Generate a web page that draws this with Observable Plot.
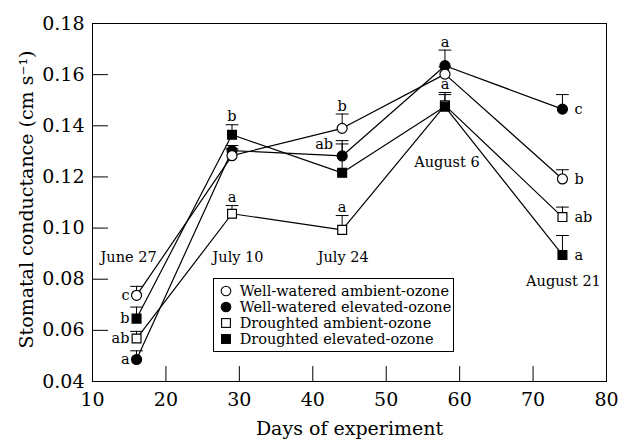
<!DOCTYPE html>
<html><head><meta charset="utf-8">
<script src="https://cdn.jsdelivr.net/npm/d3@7"></script>
<script src="https://cdn.jsdelivr.net/npm/@observablehq/plot@0.6"></script>
<style>
body{margin:0;background:#fff;}
#wrap{position:relative;width:618px;height:440px;font-family:"DejaVu Serif",serif;}
#legend{position:absolute;left:213px;top:278px;width:241px;height:74px;border:1px solid #000;background:#fff;font-size:14.5px;line-height:16px;padding:4px 0 0 5.7px;box-sizing:border-box;color:#000;}
.row{display:flex;align-items:center;height:16px;white-space:nowrap;}
.row svg{margin-right:8px;flex:none;}
</style></head>
<body><div id="wrap"></div>
<script>
// ---- data ----
const days = [16, 29, 44, 58, 74];
const dateLabels = ["June 27", "July 10", "July 24", "August 6", "August 21"];
const seriesNames = ["Well-watered ambient-ozone", "Well-watered elevated-ozone", "Droughted ambient-ozone", "Droughted elevated-ozone"];
const wwAmbient     = [0.0737, 0.1283, 0.1390, 0.1602, 0.1192];
const wwAmbientTop  = [0.0772, 0.1310, 0.1446, 0.1630, 0.1228];
const wwAmbientLet  = ["c", "", "b", "", "b"];
const wwElevated    = [0.0486, 0.1303, 0.1282, 0.1635, 0.1465];
const wwElevatedTop = [0.0520, 0.1323, 0.1342, 0.1696, 0.1522];
const wwElevatedLet = ["a", "", "ab", "a", "c"];
const drAmbient     = [0.0568, 0.1056, 0.0993, 0.1480, 0.1043];
const drAmbientTop  = [0.0596, 0.1088, 0.1049, 0.1522, 0.1082];
const drAmbientLet  = ["ab", "a", "a", "", "ab"];
const drElevated    = [0.0646, 0.1365, 0.1216, 0.1475, 0.0895];
const drElevatedTop = [0.0691, 0.1404, 0.1329, 0.1530, 0.0971];
const drElevatedLet = ["b", "b", "", "a", "a"];
const xTicks = [10, 20, 30, 40, 50, 60, 70, 80];
const yTicks = [0.04, 0.06, 0.08, 0.10, 0.12, 0.14, 0.16, 0.18];

// ---- build table ----
const series = [
  {name: seriesNames[0], values: wwAmbient, tops: wwAmbientTop, letters: wwAmbientLet, symbol: "circle", fill: "white"},
  {name: seriesNames[1], values: wwElevated, tops: wwElevatedTop, letters: wwElevatedLet, symbol: "circle", fill: "black"},
  {name: seriesNames[2], values: drAmbient, tops: drAmbientTop, letters: drAmbientLet, symbol: "square", fill: "white"},
  {name: seriesNames[3], values: drElevated, tops: drElevatedTop, letters: drElevatedLet, symbol: "square", fill: "black"}
];
const rows = series.flatMap((s, si) => days.map((d, i) => ({
  series: s.name, si, i, day: d, value: s.values[i], top: s.tops[i], letter: s.letters[i], symbol: s.symbol, fill: s.fill
})));

// layout helpers
const lineShape = {draw(ctx, l) { ctx.moveTo(0, 0); ctx.lineTo(0, -l); }};
const dateY = [0.0885, 0.0885, 0.0885, 0.1256, 0.0791];
const dateDx = [-8, 6, 1, 2, 1];
const font = 14.5;

const lettered = rows.filter(r => r.letter);
const leftLetters = lettered.filter(r => r.i === 0);
const rightLetters = lettered.filter(r => r.i === 4);
const sideCap = lettered.filter(r => r.si === 1 && r.i === 2);
const aboveLetters = lettered.filter(r => r.i > 0 && r.i < 4 && !(r.si === 1 && r.i === 2));

const drawOrder = [1, 0, 2, 3];

const chart = Plot.plot({
  width: 618, height: 440,
  marginLeft: 92, marginRight: 12, marginTop: 23, marginBottom: 59,
  style: {fontFamily: "DejaVu Serif", fontSize: "19px", color: "black", background: "white"},
  x: {domain: [10, 80]},
  y: {domain: [0.04, 0.18]},
  marks: [
    Plot.frame({stroke: "black", strokeWidth: 1}),
    Plot.vector(yTicks, {y: d => d, frameAnchor: "left", rotate: 90, length: 15, anchor: "start", shape: lineShape, stroke: "black", strokeWidth: 1}),
    Plot.vector(xTicks, {x: d => d, frameAnchor: "bottom", rotate: 0, length: 15, anchor: "start", shape: lineShape, stroke: "black", strokeWidth: 1}),
    Plot.axisX(xTicks, {tickSize: 0, tickPadding: 11, fontSize: 19, label: null}),
    Plot.axisY(yTicks, {tickSize: 0, tickPadding: 8, fontSize: 19, label: null, tickFormat: d => d.toFixed(2)}),
    Plot.text(["Days of experiment"], {frameAnchor: "bottom", lineAnchor: "middle", textAnchor: "middle", dy: 47, fontSize: 19}),
    Plot.text(["Stomatal conductance (cm s\u207B\u00B9)"], {frameAnchor: "left", textAnchor: "middle", lineAnchor: "middle", dx: -66, dy: -3, rotate: -90, fontSize: 19}),
    Plot.line(rows, {x: "day", y: "value", z: "series", stroke: "black", strokeWidth: 1.2}),
    Plot.ruleX(rows, {x: "day", y1: "value", y2: "top", stroke: "black", strokeWidth: 1}),
    Plot.vector(rows, {x: "day", y: "top", rotate: 90, length: 12, anchor: "middle", shape: lineShape, stroke: "black", strokeWidth: 1}),
    ...drawOrder.map(si => Plot.dot(rows.filter(r => r.si === si), {
      x: "day", y: "value", r: 5, symbol: series[si].symbol, fill: series[si].fill, stroke: "black", strokeWidth: 1.2
    })),
    Plot.text(leftLetters, {x: "day", y: "value", text: "letter", textAnchor: "end", dx: -7, fontSize: font}),
    Plot.text(rightLetters, {x: "day", y: "value", text: "letter", textAnchor: "start", dx: 12, fontSize: font}),
    Plot.text(aboveLetters, {x: "day", y: "top", text: "letter", dy: -8, fontSize: font}),
    Plot.text(sideCap, {x: "day", y: "top", text: "letter", textAnchor: "end", dx: -9, dy: 4, fontSize: font}),
    ...dateLabels.map((t, i) => Plot.text([t], {x: days[i], y: dateY[i], dx: dateDx[i], fontSize: font}))
  ]
});

const wrap = document.getElementById("wrap");
wrap.appendChild(chart);

// legend
const legend = d3.select(wrap).append("div").attr("id", "legend");
series.forEach(s => {
  const row = legend.append("div").attr("class", "row");
  const svg = row.append("svg").attr("width", 12).attr("height", 12);
  if (s.symbol === "circle") {
    svg.append("circle").attr("cx", 6).attr("cy", 6).attr("r", 4.8).attr("fill", s.fill).attr("stroke", "black").attr("stroke-width", 1.1);
  } else {
    svg.append("rect").attr("x", 1.6).attr("y", 1.6).attr("width", 8.8).attr("height", 8.8).attr("fill", s.fill).attr("stroke", "black").attr("stroke-width", 1.1);
  }
  row.append("span").text(s.name);
});
</script>
</body></html>
